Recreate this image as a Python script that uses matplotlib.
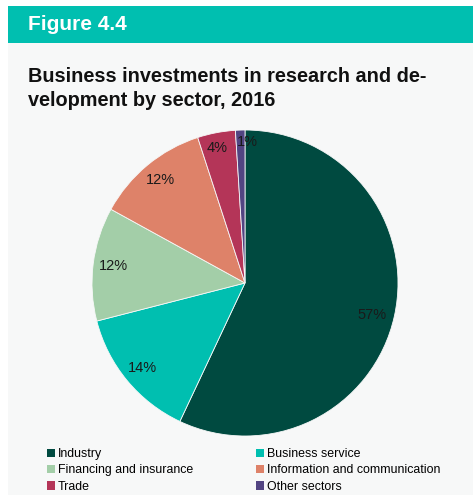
import matplotlib
matplotlib.use("Agg")
import matplotlib.pyplot as plt
from matplotlib.patches import Rectangle, Patch

plt.rcParams['font.family'] = ['Liberation Sans', 'DejaVu Sans']

# Data
sectors = ["Industry", "Business service", "Financing and insurance",
           "Information and communication", "Trade", "Other sectors"]
shares = [57, 14, 12, 12, 4, 1]
colors = ["#004a40", "#00bfb0", "#a3cea8", "#de8269", "#b43558", "#524482"]

W, H = 473, 495
fig = plt.figure(figsize=(W / 100, H / 100), dpi=100)
fig.patch.set_facecolor("white")

# Header band and panel background
fig.patches.append(Rectangle((8 / W, 0), 1 - 8 / W, 1 - 43 / H,
                             transform=fig.transFigure, facecolor="#f7f8f8",
                             edgecolor="none", zorder=-2))
fig.patches.append(Rectangle((8 / W, 1 - 43 / H), 1 - 8 / W, 37 / H,
                             transform=fig.transFigure, facecolor="#00bfb0",
                             edgecolor="none", zorder=-2))

fig.text(28 / W, 1 - 25 / H, "Figure 4.4", color="white", fontsize=15,
         fontweight="bold", va="center", ha="left")
fig.text(28 / W, 1 - 76 / H, "Business investments in research and de-",
         color="#111111", fontsize=14.3, fontweight="bold", va="center", ha="left")
fig.text(28 / W, 1 - 100 / H, "velopment by sector, 2016",
         color="#111111", fontsize=14.3, fontweight="bold", va="center", ha="left")

# Pie
cx, cy, r = 245, 283, 153
ax = fig.add_axes([(cx - r) / W, (H - cy - r) / H, 2 * r / W, 2 * r / H])
wedges, _, pct_texts = ax.pie(
    shares, colors=colors, startangle=90, counterclock=False,
    autopct=lambda p: f"{p:.0f}%", pctdistance=0.87,
    wedgeprops=dict(edgecolor="#f7f8f8", linewidth=0.6),
    textprops=dict(fontsize=10.5, color="#1a1a1a"))
ax.set_xlim(-1, 1)
ax.set_ylim(-1, 1)

# Small slices: labels pushed to the outer rim
for t, dx, dy in [(pct_texts[0], -0.02, -0.02),
                  (pct_texts[4], -0.02, 0.03), (pct_texts[5], 0.04, 0.05)]:
    x, y = t.get_position()
    t.set_position((x + dx, y + dy))

# Legend (column-wise order)
order = [0, 2, 4, 1, 3, 5]
handles = [Patch(facecolor=colors[i], edgecolor="none") for i in order]
labels = [sectors[i] for i in order]
fig.legend(handles, labels, ncol=2, loc="upper left",
           bbox_to_anchor=(47 / W, 1 - 448 / H), frameon=False,
           fontsize=8.9, handlelength=0.65, handleheight=0.65,
           handletextpad=0.25, columnspacing=5.05, labelspacing=0.36,
           borderaxespad=0, borderpad=0)

fig.savefig("out.png", dpi=100, facecolor=fig.get_facecolor())
